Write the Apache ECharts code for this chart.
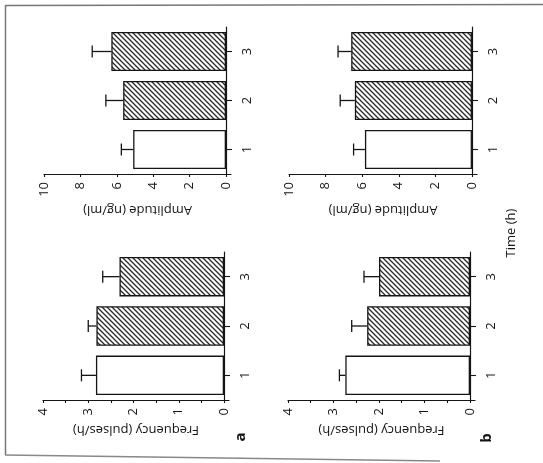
<!DOCTYPE html>
<html>
<head>
<meta charset="utf-8">
<script src="https://cdn.jsdelivr.net/npm/echarts@6/dist/echarts.min.js"></script>
<style>
html,body{margin:0;padding:0;background:#fff;}
#c{width:543px;height:463px;}
</style>
</head>
<body>
<div id="c"></div>
<script>
// ---- data ----
const categories = ['1', '2', '3'];
const ampA = [5.1, 5.65, 6.3];
const ampAErr = [0.65, 0.95, 1.05];
const ampB = [5.85, 6.4, 6.6];
const ampBErr = [0.62, 0.8, 0.72];
const freqA = [2.83, 2.82, 2.31];
const freqAErr = [0.32, 0.18, 0.37];
const freqB = [2.74, 2.26, 2.0];
const freqBErr = [0.13, 0.34, 0.33];
const ampTicks = [0, 2, 4, 6, 8, 10];
const freqTicks = [0, 1, 2, 3, 4];
const freqMinorTicks = [0, 0.5, 1, 1.5, 2, 2.5, 3, 3.5, 4];
const ampName = 'Amplitude (ng/ml)';
const freqName = 'Frequency (pulses/h)';
const panelLetters = ['a', 'b'];
const timeName = 'Time (h)';

// ---- hatch pattern ----
function makeHatch() {
  const s = 5;
  const cv = document.createElement('canvas');
  cv.width = s; cv.height = s;
  const ctx = cv.getContext('2d');
  ctx.fillStyle = '#fff';
  ctx.fillRect(0, 0, s, s);
  ctx.strokeStyle = '#2a2a2a';
  ctx.lineWidth = 1.3;
  ctx.beginPath();
  for (let k = -s; k <= s; k += s) {
    ctx.moveTo(k - 1, -1);
    ctx.lineTo(k + s + 1, s + 1);
  }
  ctx.stroke();
  return cv;
}
const hatch = { image: makeHatch(), repeat: 'repeat' };

const FONT = 'Open Sans';
const INK = '#151515';

const panels = [
  { values: ampA, errs: ampAErr, max: 10, over: 0.275, ticks: ampTicks, minor: ampTicks, name: ampName, grid: { left: 44, right: 312, top: 27, bottom: 289 }, nameGap: 29 },
  { values: ampB, errs: ampBErr, max: 10, over: 0.275, ticks: ampTicks, minor: ampTicks, name: ampName, grid: { left: 289, right: 66, top: 27, bottom: 289 }, nameGap: 29 },
  { values: freqA, errs: freqAErr, max: 4, over: 0.11, ticks: freqTicks, minor: freqMinorTicks, name: freqName, grid: { left: 43, right: 314, top: 252, bottom: 63 }, nameGap: 23 },
  { values: freqB, errs: freqBErr, max: 4, over: 0.11, ticks: freqTicks, minor: freqMinorTicks, name: freqName, grid: { left: 288, right: 68, top: 252, bottom: 63 }, nameGap: 23 }
];

const grids = [], xAxes = [], yAxes = [], series = [];
panels.forEach((p, i) => {
  grids.push(Object.assign({ containLabel: false }, p.grid));
  xAxes.push({
    gridIndex: i, type: 'value', inverse: true, min: -p.over, max: p.max,
    axisLine: { show: true, onZero: false, lineStyle: { color: INK, width: 1.2 } },
    axisTick: { show: true, customValues: p.minor, length: 3, lineStyle: { color: INK, width: 1.1 } },
    axisLabel: { show: true, customValues: p.ticks, rotate: 90, fontSize: 13, fontFamily: FONT, color: INK, margin: 8 },
    splitLine: { show: false },
    name: p.name, nameLocation: 'middle', nameGap: p.nameGap, nameRotate: 180,
    nameTextStyle: { fontSize: 13, fontFamily: FONT, color: INK }
  });
  yAxes.push({
    gridIndex: i, type: 'category', data: categories, position: 'right',
    axisLine: { show: true, onZero: true, lineStyle: { color: INK, width: 1.2 } },
    axisTick: { show: true, alignWithLabel: true, length: 6, lineStyle: { color: INK, width: 1.1 } },
    axisLabel: { rotate: 90, fontSize: 13, fontFamily: FONT, color: INK, margin: 10 },
    splitLine: { show: false }
  });
  series.push({
    type: 'bar', xAxisIndex: i, yAxisIndex: i, barCategoryGap: '20%',
    data: p.values.map((v, k) => ({
      value: v,
      itemStyle: { color: k === 0 ? '#fff' : hatch, borderColor: INK, borderWidth: 1.3 }
    })),
    animation: false, silent: true
  });
  series.push({
    type: 'custom', xAxisIndex: i, yAxisIndex: i,
    data: p.values.map((v, k) => [v, k, p.errs[k]]),
    encode: { x: 0, y: 1 },
    renderItem: function (params, api) {
      const v = api.value(0), c = api.value(1), e = api.value(2);
      const a = api.coord([v, c]);
      const b = api.coord([v + e, c]);
      const st = { stroke: INK, lineWidth: 1.3 };
      return {
        type: 'group', children: [
          { type: 'line', shape: { x1: a[0], y1: a[1], x2: b[0], y2: b[1] }, style: st },
          { type: 'line', shape: { x1: b[0], y1: b[1] - 6, x2: b[0], y2: b[1] + 6 }, style: st }
        ]
      };
    },
    animation: false, silent: true, z: 3
  });
});

const frame = { stroke: '#777', lineWidth: 1.5 };
const chart = echarts.init(document.getElementById('c'), null, { renderer: 'canvas' });
chart.setOption({
  backgroundColor: '#fff',
  animation: false,
  grid: grids, xAxis: xAxes, yAxis: yAxes, series: series,
  graphic: [
    { type: 'line', shape: { x1: 5.5, y1: 5, x2: 5.5, y2: 455 }, style: frame, silent: true },
    { type: 'line', shape: { x1: 5, y1: 5.5, x2: 543, y2: 4.5 }, style: frame, silent: true },
    { type: 'line', shape: { x1: 5, y1: 455, x2: 440, y2: 461 }, style: { stroke: '#888', lineWidth: 1.5 }, silent: true },
    { type: 'text', x: 241, y: 437, rotation: Math.PI / 2, style: { text: panelLetters[0], font: 'bold 15px "Open Sans"', fill: INK, align: 'center', verticalAlign: 'middle' }, silent: true },
    { type: 'text', x: 487, y: 438, rotation: Math.PI / 2, style: { text: panelLetters[1], font: 'bold 15px "Open Sans"', fill: INK, align: 'center', verticalAlign: 'middle' }, silent: true },
    { type: 'text', x: 511, y: 233, rotation: Math.PI / 2, style: { text: timeName, font: '13px "Open Sans"', fill: INK, align: 'center', verticalAlign: 'middle' }, silent: true }
  ]
});
</script>
</body>
</html>
